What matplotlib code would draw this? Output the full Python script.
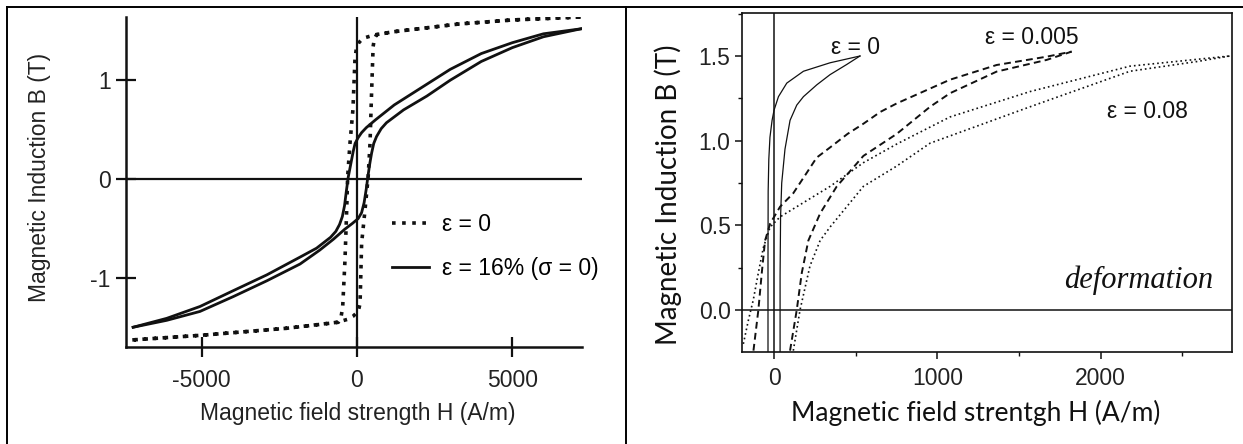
import matplotlib.pyplot as plt
from matplotlib.lines import Line2D
from matplotlib.ticker import MultipleLocator, FormatStrFormatter

plt.rcParams['axes.unicode_minus'] = False

# ---- left chart: hysteresis loops, eps = 0 and eps = 16 %
# eps = 0 loop (dotted), walked round once
loop0_H = [7200, 5000, 3300, 1160, 580, 250, 150, 60, -20, -64, -130, -225, -300, -330,
           -385, -460, -520, -600, -2250, -4950, -7300, -7300, -4950, -2250, -640, -300,
           -130, 40, 100, 150, 260, 360, 420, 470, 520, 560, 630, 1160, 3300, 5000, 7200]
loop0_B = [1.64, 1.61, 1.57, 1.49, 1.46, 1.43, 1.41, 1.38, 1.32, 1.21, 0.70, 0.36, 0.02,
           -0.31, -0.82, -1.30, -1.41, -1.45, -1.51, -1.58, -1.63, -1.63, -1.58, -1.51,
           -1.45, -1.42, -1.39, -1.34, -1.26, -0.65, -0.31, 0.02, 0.36, 0.87, 1.34, 1.42,
           1.46, 1.49, 1.57, 1.61, 1.64]

# eps = 16 % loop (solid): descending and ascending branches
desc_H = [7200, 6000, 5000, 4000, 3000, 2000, 1200, 600, 300, 150, 40, -60, -120, -200,
          -280, -340, -400, -470, -560, -680, -850, -1300, -1830, -2900, -3980, -5050,
          -6120, -7200]
desc_B = [1.52, 1.47, 1.38, 1.27, 1.11, 0.91, 0.75, 0.60, 0.52, 0.47, 0.42, 0.36, 0.28,
          0.15, 0.02, -0.12, -0.27, -0.38, -0.46, -0.53, -0.59, -0.70, -0.79, -0.97, -1.13,
          -1.29, -1.41, -1.50]
asc_H = [-7200, -6120, -5050, -3980, -2900, -1830, -1200, -760, -400, -150, 40, 150,
         230, 300, 350, 410, 470, 540, 630, 780, 950, 1500, 2250, 3000, 4000, 5000, 6000,
         7200]
asc_B = [-1.50, -1.43, -1.34, -1.19, -1.03, -0.86, -0.72, -0.61, -0.51, -0.45, -0.40,
         -0.34, -0.24, -0.10, 0.02, 0.15, 0.26, 0.36, 0.43, 0.51, 0.57, 0.70, 0.84, 1.00,
         1.19, 1.33, 1.44, 1.52]

left_xticks = [-5000, 0, 5000]
left_yticks = [-1, 0, 1]

# ---- right chart: initial curves after deformation
e0_left_H = [-37, -37, -36, -32, -25, -12, 0, 27, 78, 180, 343, 526]
e0_left_B = [-0.25, 0.30, 0.70, 0.89, 1.02, 1.12, 1.18, 1.26, 1.34, 1.41, 1.46, 1.50]
e0_right_H = [37, 37, 40, 47, 67, 98, 139, 180, 262, 343, 445, 526]
e0_right_B = [-0.25, 0.20, 0.55, 0.75, 0.95, 1.12, 1.21, 1.26, 1.33, 1.39, 1.45, 1.50]

e005_left_H = [-126, -96, -75, -55, -24, 37, 118, 200, 261, 343, 450, 547, 651, 751, 914,
               1077, 1363, 1669, 1822]
e005_left_B = [-0.24, 0.0, 0.22, 0.41, 0.51, 0.61, 0.69, 0.81, 0.90, 0.96, 1.04, 1.10,
               1.17, 1.22, 1.29, 1.36, 1.447, 1.496, 1.526]
e005_right_H = [98, 139, 170, 210, 282, 384, 547, 751, 955, 1077, 1363, 1669, 1822]
e005_right_B = [-0.24, 0.0, 0.22, 0.41, 0.57, 0.73, 0.91, 1.04, 1.20, 1.28, 1.408, 1.477,
                1.526]

e008_left_H = [-188, -157, -127, -96, -65, -24, 37, 139, 343, 547, 751, 1077, 1567,
               2179, 2790]
e008_left_B = [-0.20, -0.06, 0.06, 0.22, 0.37, 0.49, 0.55, 0.61, 0.73, 0.87, 0.98, 1.14,
               1.29, 1.44, 1.50]
e008_right_H = [118, 159, 220, 282, 343, 547, 751, 955, 1567, 2179, 2587, 2790]
e008_right_B = [-0.24, 0.0, 0.26, 0.41, 0.49, 0.73, 0.85, 0.985, 1.20, 1.41, 1.467, 1.50]

sans = 'Liberation Sans'
ink = '#111111'

fig = plt.figure(figsize=(12.43, 4.44), dpi=100)

# ---------------- left panel
ax1 = fig.add_axes([126 / 1243, 1 - 347 / 444, 456 / 1243, 330 / 444])
ax1.plot(loop0_H, loop0_B, color=ink, lw=2.6, linestyle=(0, (1, 1.8)),
         label='ε = 0')
ax1.plot(desc_H, desc_B, color=ink, lw=2.0, label='ε = 16% (σ = 0)')
ax1.plot(asc_H, asc_B, color=ink, lw=2.0)
ax1.axhline(0, color=ink, lw=1.6)
ax1.axvline(0, color=ink, lw=1.6)
ax1.set_xlim(-7430, 7240)
ax1.set_ylim(-1.70, 1.64)
ax1.set_xticks(left_xticks)
ax1.set_yticks(left_yticks)
for s in ['top', 'right']:
    ax1.spines[s].set_visible(False)
for s in ['left', 'bottom']:
    ax1.spines[s].set_linewidth(1.8)
    ax1.spines[s].set_color(ink)
ax1.tick_params(direction='inout', length=14, width=1.6, color=ink,
                labelsize=16.5, labelcolor='#222222')
ax1.tick_params(axis='x', pad=9)
ax1.tick_params(axis='y', pad=4)
for lab in ax1.get_xticklabels() + ax1.get_yticklabels():
    lab.set_family(sans)
leg = ax1.legend(loc='upper left', bbox_to_anchor=(0.558, 0.44), frameon=False,
                 prop={'family': sans, 'size': 16.5}, handlelength=1.6,
                 handletextpad=0.6, labelspacing=0.9, borderpad=0)
fig.text(40 / 1243, 1 - 177 / 444, 'Magnetic Induction B (T)', rotation=90,
         ha='center', va='center', family=sans, size=16.5, color='#222222')
fig.text(358 / 1243, 1 - 413 / 444, 'Magnetic field strength H (A/m)',
         ha='center', va='center', family=sans, size=16.5, color='#222222')

# ---------------- right panel
ax2 = fig.add_axes([741.7 / 1243, 1 - 352 / 444, 490 / 1243, 339 / 444])
ax2.plot(e0_left_H, e0_left_B, color=ink, lw=0.9)
ax2.plot(e0_right_H, e0_right_B, color=ink, lw=0.9)
ax2.plot(e005_left_H, e005_left_B, color=ink, lw=1.4, linestyle=(0, (3.5, 2.2)))
ax2.plot(e005_right_H, e005_right_B, color=ink, lw=1.4, linestyle=(0, (3.5, 2.2)))
ax2.plot(e008_left_H, e008_left_B, color=ink, lw=1.2, linestyle=(0, (1, 1.8)))
ax2.plot(e008_right_H, e008_right_B, color=ink, lw=1.2, linestyle=(0, (1, 1.8)))
ax2.axhline(0, color=ink, lw=1.1)
ax2.axvline(0, color=ink, lw=1.1)
ax2.set_xlim(-198, 2802)
ax2.set_ylim(-0.248, 1.754)
ax2.xaxis.set_major_locator(MultipleLocator(1000))
ax2.xaxis.set_minor_locator(MultipleLocator(500))
ax2.yaxis.set_major_locator(MultipleLocator(0.5))
ax2.yaxis.set_minor_locator(MultipleLocator(0.25))
ax2.yaxis.set_major_formatter(FormatStrFormatter('%.1f'))
for s in ax2.spines.values():
    s.set_linewidth(1.2)
    s.set_color(ink)
ax2.tick_params(which='major', direction='out', length=5, width=1.1, color=ink,
                labelsize=16.5, labelcolor='#222222')
ax2.tick_params(which='minor', direction='out', length=3, width=1.0, color=ink)
ax2.tick_params(axis='x', pad=6)
ax2.tick_params(axis='y', pad=3)
for lab in ax2.get_xticklabels() + ax2.get_yticklabels():
    lab.set_family(sans)

ax2.text(0.233, 0.897, 'ε = 0', transform=ax2.transAxes, ha='center', va='center',
         family=sans, size=16.5, color=ink)
ax2.text(0.592, 0.929, 'ε = 0.005', transform=ax2.transAxes, ha='center', va='center',
         family=sans, size=16.5, color=ink)
ax2.text(0.829, 0.708, 'ε = 0.08', transform=ax2.transAxes, ha='center', va='center',
         family=sans, size=16.5, color=ink)
ax2.text(0.962, 0.212, 'deformation', transform=ax2.transAxes, ha='right', va='center',
         family='Liberation Serif', style='italic', size=22, color=ink)

fig.text(668 / 1243, 1 - 195 / 444, 'Magnetic Induction B (T)', rotation=90,
         ha='center', va='center', family='Lato', size=20, color='#111111')
fig.text(976 / 1243, 1 - 413 / 444, 'Magnetic field strentgh H (A/m)',
         ha='center', va='center', family='Lato', size=19, color='#111111')

# ---------------- table borders around the two panels
border = dict(color='black', lw=1.4, transform=fig.transFigure)
fig.add_artist(Line2D([7 / 1243, 1], [1 - 7 / 444, 1 - 7 / 444], **border))
fig.add_artist(Line2D([7 / 1243, 7 / 1243], [0, 1 - 7 / 444], **border))
fig.add_artist(Line2D([626 / 1243, 626 / 1243], [0, 1 - 7 / 444], **border))

fig.savefig('out.png', dpi=100)
